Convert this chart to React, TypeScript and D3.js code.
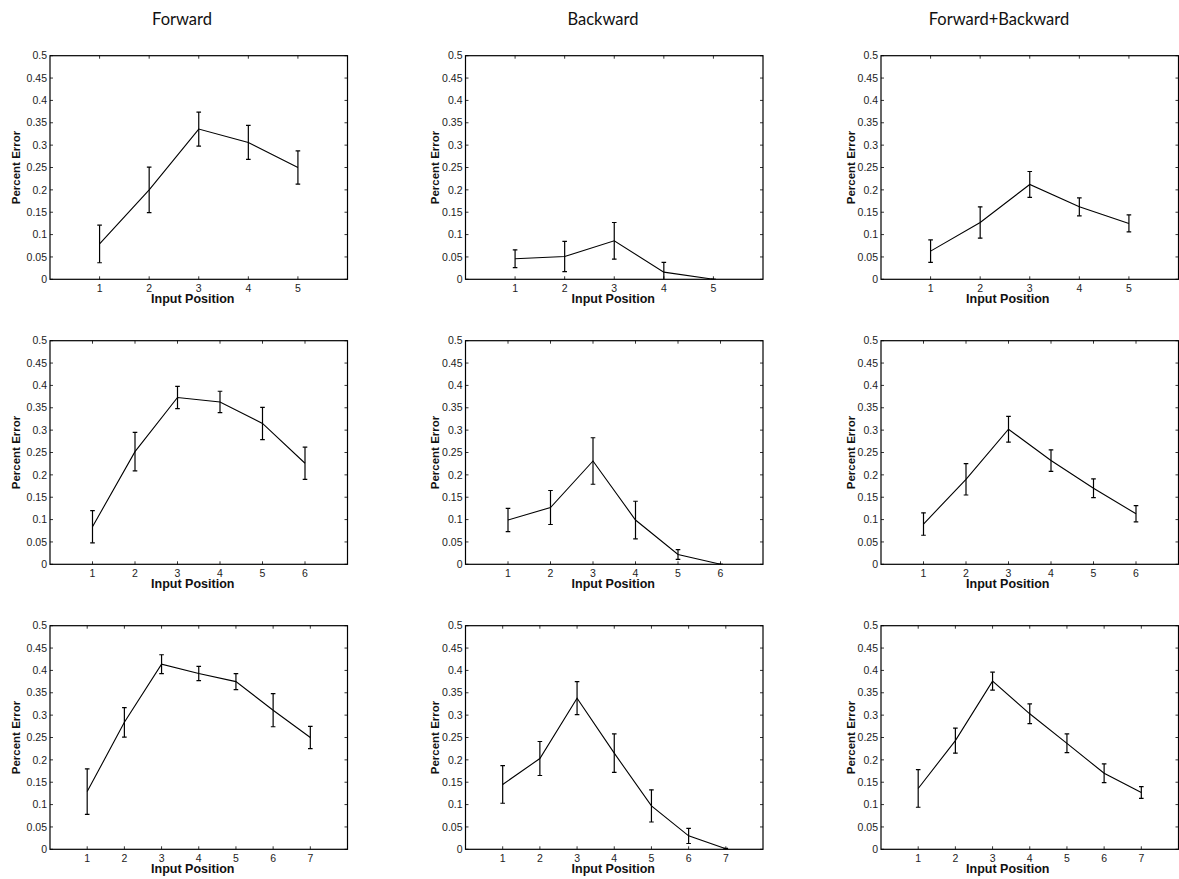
import React from "react";
import * as d3 from "d3";

const columnTitles = ["Forward", "Backward", "Forward+Backward"];
const yTicks = [0, 0.05, 0.1, 0.15, 0.2, 0.25, 0.3, 0.35, 0.4, 0.45, 0.5];

// row 1: five input positions
const fwd5 = [0.079, 0.2, 0.336, 0.306, 0.25];
const fwd5Err = [0.042, 0.051, 0.038, 0.038, 0.037];
const bwd5 = [0.046, 0.051, 0.086, 0.016, 0.0];
const bwd5Err = [0.02, 0.034, 0.041, 0.022, 0.0];
const both5 = [0.063, 0.127, 0.212, 0.162, 0.125];
const both5Err = [0.025, 0.035, 0.029, 0.02, 0.019];

// row 2: six input positions
const fwd6 = [0.084, 0.252, 0.373, 0.363, 0.315, 0.226];
const fwd6Err = [0.036, 0.043, 0.025, 0.024, 0.036, 0.036];
const bwd6 = [0.099, 0.127, 0.231, 0.099, 0.022, 0.0];
const bwd6Err = [0.026, 0.038, 0.052, 0.042, 0.011, 0.0];
const both6 = [0.09, 0.19, 0.302, 0.232, 0.17, 0.113];
const both6Err = [0.025, 0.035, 0.029, 0.024, 0.021, 0.018];

// row 3: seven input positions
const fwd7 = [0.129, 0.284, 0.414, 0.393, 0.375, 0.311, 0.25];
const fwd7Err = [0.051, 0.033, 0.021, 0.016, 0.018, 0.037, 0.025];
const bwd7 = [0.145, 0.203, 0.338, 0.215, 0.097, 0.03, 0.001];
const bwd7Err = [0.042, 0.038, 0.037, 0.043, 0.036, 0.017, 0.001];
const both7 = [0.136, 0.243, 0.376, 0.303, 0.237, 0.17, 0.127];
const both7Err = [0.042, 0.028, 0.02, 0.022, 0.021, 0.021, 0.013];

const panels = [
  [fwd5, fwd5Err], [bwd5, bwd5Err], [both5, both5Err],
  [fwd6, fwd6Err], [bwd6, bwd6Err], [both6, both6Err],
  [fwd7, fwd7Err], [bwd7, bwd7Err], [both7, both7Err],
];

const width = 1179;
const height = 879;
const colLeft = [50, 465.5, 881];
const rowTop = [55.7, 340.7, 625.7];
const plotW = 297.5;
const plotH = 223.6;
const titleX = [182, 603, 999];
const xLabelDx = [-6, -1, -22];
const yLabelDx = [-34, -31, -30];
const tickFont = "'Liberation Sans', Arial, sans-serif";

export default function App() {
  const ref = React.useRef<SVGSVGElement>(null);

  React.useEffect(() => {
    const svg = d3.select(ref.current);
    svg.selectAll("*").remove();

    svg
      .selectAll("text.col-title")
      .data(columnTitles)
      .join("text")
      .attr("class", "col-title")
      .attr("x", (_, i) => titleX[i])
      .attr("y", 25)
      .attr("text-anchor", "middle")
      .style("font-family", "Lato, 'Open Sans', sans-serif")
      .style("font-size", "16.5px")
      .attr("fill", "#111")
      .text((d) => d);

    panels.forEach(([means, errs], idx) => {
      const col = idx % 3;
      const row = Math.floor(idx / 3);
      const n = means.length;
      const g = svg
        .append("g")
        .attr("transform", `translate(${colLeft[col]},${rowTop[row]})`);

      const x = d3.scaleLinear().domain([0, n + 1]).range([0, plotW]);
      const y = d3.scaleLinear().domain([0, 0.5]).range([plotH, 0]);
      const positions = d3.range(1, n + 1);

      const clipId = `clip-${idx}`;
      g.append("clipPath")
        .attr("id", clipId)
        .append("rect")
        .attr("width", plotW)
        .attr("height", plotH);

      // inward ticks on all four sides
      const ticks = g.append("g").attr("stroke", "#000").attr("stroke-width", 0.8);
      yTicks.forEach((t) => {
        ticks.append("line").attr("x1", 0).attr("x2", 3).attr("y1", y(t)).attr("y2", y(t));
        ticks.append("line").attr("x1", plotW - 3).attr("x2", plotW).attr("y1", y(t)).attr("y2", y(t));
      });
      positions.forEach((p) => {
        ticks.append("line").attr("x1", x(p)).attr("x2", x(p)).attr("y1", plotH).attr("y2", plotH - 3);
        ticks.append("line").attr("x1", x(p)).attr("x2", x(p)).attr("y1", 0).attr("y2", 3);
      });

      g.append("rect")
        .attr("width", plotW)
        .attr("height", plotH)
        .attr("fill", "none")
        .attr("stroke", "#000")
        .attr("stroke-width", 1.2);

      g.selectAll("text.ytick")
        .data(yTicks)
        .join("text")
        .attr("class", "ytick")
        .attr("x", -3)
        .attr("y", (d) => y(d))
        .attr("dy", "0.35em")
        .attr("text-anchor", "end")
        .style("font-family", tickFont)
        .style("font-size", "10.5px")
        .attr("fill", "#222")
        .text((d) => String(d));

      g.selectAll("text.xtick")
        .data(positions)
        .join("text")
        .attr("class", "xtick")
        .attr("x", (d) => x(d))
        .attr("y", plotH + 13)
        .attr("text-anchor", "middle")
        .style("font-family", tickFont)
        .style("font-size", "10.5px")
        .attr("fill", "#222")
        .text((d) => String(d));

      g.append("text")
        .attr("x", plotW / 2 + xLabelDx[col])
        .attr("y", plotH + 24)
        .attr("text-anchor", "middle")
        .style("font-family", tickFont)
        .style("font-size", "12.5px")
        .style("font-weight", "bold")
        .attr("fill", "#111")
        .text("Input Position");

      g.append("text")
        .attr("transform", `translate(${yLabelDx[col]},${plotH / 2}) rotate(-90)`)
        .attr("dy", "0.35em")
        .attr("text-anchor", "middle")
        .style("font-family", tickFont)
        .style("font-size", "11.5px")
        .style("font-weight", "bold")
        .attr("fill", "#111")
        .text("Percent Error");

      const plot = g.append("g").attr("clip-path", `url(#${clipId})`);

      const line = d3
        .line<number>()
        .x((_, i) => x(i + 1))
        .y((d) => y(d));

      plot
        .append("path")
        .datum(means)
        .attr("d", line)
        .attr("fill", "none")
        .attr("stroke", "#000")
        .attr("stroke-width", 1.1);

      const bars = plot
        .selectAll("g.err")
        .data(means.map((m, i) => ({ m, e: errs[i], p: i + 1 })))
        .join("g")
        .attr("class", "err")
        .attr("stroke", "#000")
        .attr("stroke-width", 1.2);

      bars
        .append("line")
        .attr("x1", (d) => x(d.p))
        .attr("x2", (d) => x(d.p))
        .attr("y1", (d) => y(d.m - d.e))
        .attr("y2", (d) => y(d.m + d.e));
      bars
        .append("line")
        .attr("x1", (d) => x(d.p) - 2.3)
        .attr("x2", (d) => x(d.p) + 2.3)
        .attr("y1", (d) => y(d.m + d.e))
        .attr("y2", (d) => y(d.m + d.e));
      bars
        .append("line")
        .attr("x1", (d) => x(d.p) - 2.3)
        .attr("x2", (d) => x(d.p) + 2.3)
        .attr("y1", (d) => y(d.m - d.e))
        .attr("y2", (d) => y(d.m - d.e));
    });
  }, []);

  return (
    <svg
      ref={ref}
      width={width}
      height={height}
      style={{ position: "absolute", left: 0, top: 0, background: "#fff" }}
    />
  );
}
